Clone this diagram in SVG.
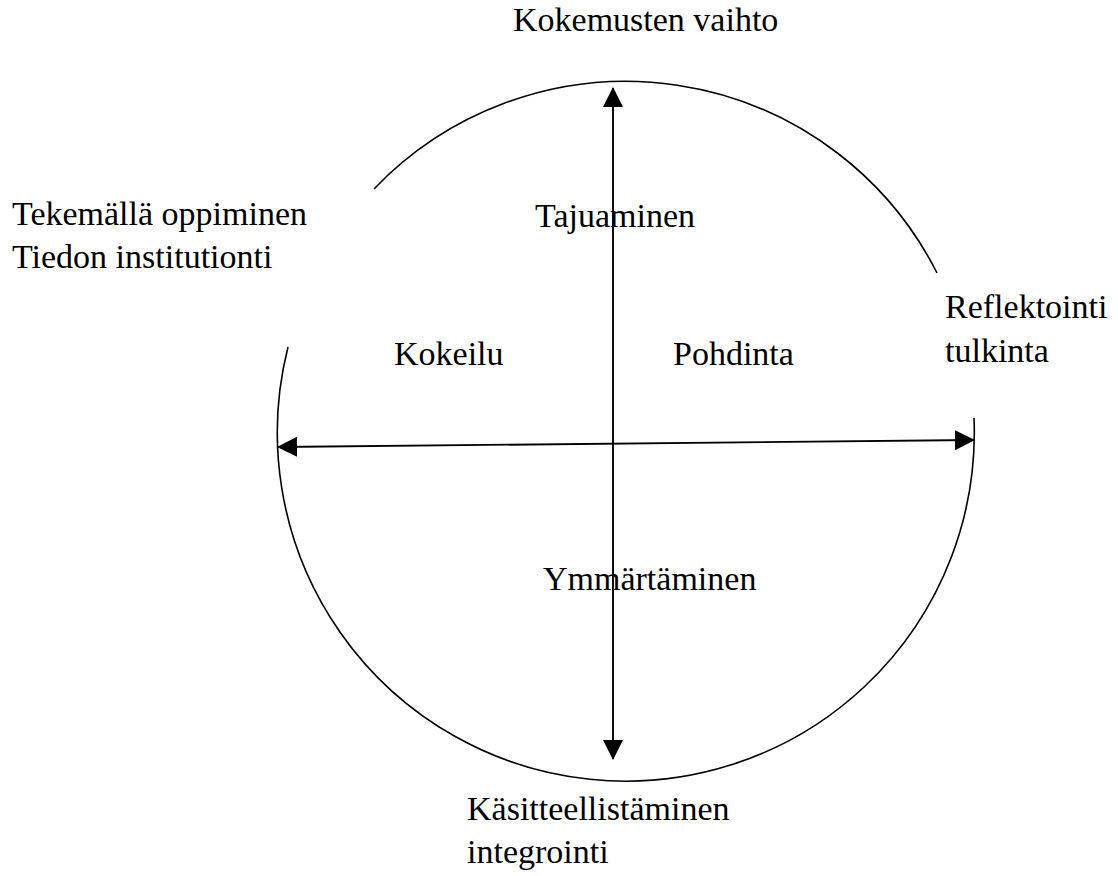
<svg xmlns="http://www.w3.org/2000/svg" width="1118" height="876" viewBox="0 0 1118 876">
  <style>
    .lbl { font-family: "Liberation Serif", "Times New Roman", "DejaVu Serif", serif; font-size: 34px; fill: #000; }
    .ring { fill: none; stroke: #000; stroke-width: 1.6; }
    .axis { fill: none; stroke: #000; stroke-width: 1.9; }
  </style>
  <defs>
    <marker id="head" viewBox="0 0 20 20" refX="19" refY="10" markerWidth="20" markerHeight="20" markerUnits="userSpaceOnUse" orient="auto-start-reverse">
      <path d="M0,0 L20,10 L0,20 Z" fill="#000"/>
    </marker>
  </defs>
  <rect width="1118" height="876" fill="#fff"/>

  <!-- open circle drawn as two arcs with gaps at upper left and right -->
  <g id="cycle">
    <path class="ring" d="M374,189 A348.5,348.5 0 0 1 937,273"/>
    <path class="ring" d="M974,418 A348.5,348.5 0 1 1 288,347"/>
  </g>

  <g id="connectors">
    <line class="axis" x1="613" y1="88" x2="613" y2="759" marker-start="url(#head)" marker-end="url(#head)"/>
    <line class="axis" x1="278" y1="447" x2="974" y2="440" marker-start="url(#head)" marker-end="url(#head)"/>
  </g>

  <g id="top-label"><text class="lbl" x="513" y="31">Kokemusten vaihto</text></g>
  <g id="left-label">
    <text class="lbl" x="12" y="225">Tekemällä oppiminen</text>
    <text class="lbl" x="12" y="268">Tiedon institutionti</text>
  </g>
  <g id="right-label">
    <text class="lbl" x="945" y="318">Reflektointi</text>
    <text class="lbl" x="945" y="362">tulkinta</text>
  </g>
  <g id="bottom-label">
    <text class="lbl" x="467" y="820">Käsitteellistäminen</text>
    <text class="lbl" x="467" y="863">integrointi</text>
  </g>
  <g id="quadrant-top"><text class="lbl" x="535" y="227">Tajuaminen</text></g>
  <g id="quadrant-left"><text class="lbl" x="394" y="365">Kokeilu</text></g>
  <g id="quadrant-right"><text class="lbl" x="673" y="365">Pohdinta</text></g>
  <g id="quadrant-bottom"><text class="lbl" x="543" y="590">Ymmärtäminen</text></g>
</svg>
